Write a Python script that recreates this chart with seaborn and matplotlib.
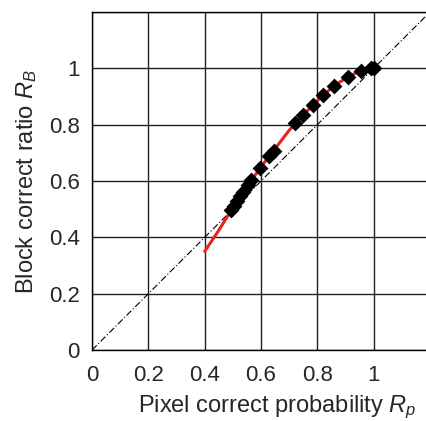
import matplotlib
matplotlib.use("Agg")
import matplotlib.pyplot as plt
import seaborn as sns
import pandas as pd

# ─── Data ─────────────────────────────────────────────────────────────────────

# fitted curve (red)
curve_x = [0.40, 0.45, 0.50, 0.55, 0.60, 0.65, 0.70, 0.75, 0.80, 0.85, 0.90, 0.95, 1.00]
curve_y = [0.35, 0.425, 0.505, 0.58, 0.65, 0.715, 0.78, 0.835, 0.885, 0.93, 0.965, 0.99, 1.00]

# measured points (black diamonds)
pts_x = [0.494, 0.505, 0.515, 0.525, 0.535, 0.553, 0.565, 0.595, 0.630, 0.645,
         0.722, 0.750, 0.783, 0.821, 0.860, 0.910, 0.955, 0.990, 1.000]
pts_y = [0.497, 0.512, 0.530, 0.546, 0.562, 0.586, 0.604, 0.645, 0.687, 0.706,
         0.805, 0.834, 0.870, 0.905, 0.938, 0.970, 0.992, 1.000, 1.000]

ticks = [0, 0.2, 0.4, 0.6, 0.8, 1.0]
tick_labels = ["0", "0.2", "0.4", "0.6", "0.8", "1"]

# ─── Style ────────────────────────────────────────────────────────────────────

sns.set_style("white")
plt.rcParams["font.family"] = ["Liberation Sans", "DejaVu Sans"]
plt.rcParams["mathtext.fontset"] = "custom"
plt.rcParams["mathtext.it"] = "Liberation Sans:italic"
plt.rcParams["mathtext.rm"] = "Liberation Sans"

fig = plt.figure(figsize=(4.27, 4.21), dpi=100)
ax = fig.add_axes([0.2155, 0.1686, 0.7916, 0.803])

# grid
for t in ticks + [1.2]:
    ax.axvline(t, color="#222222", lw=1.0, zorder=0)
    ax.axhline(t, color="#222222", lw=1.0, zorder=0)

# diagonal reference
ax.plot([0, 1.2], [0, 1.2], color="k", lw=0.8, ls=(0, (6, 2, 1, 2)), zorder=1)

df_curve = pd.DataFrame({"x": curve_x, "y": curve_y})
sns.lineplot(data=df_curve, x="x", y="y", color="#e8231c", lw=2.2,
             sort=False, estimator=None, ax=ax, zorder=2)

df_pts = pd.DataFrame({"x": pts_x, "y": pts_y})
sns.scatterplot(data=df_pts, x="x", y="y", marker="D", s=65, color="k",
                edgecolor="k", linewidth=0, ax=ax, zorder=3)

ax.set_xlim(0, 1.2)
ax.set_ylim(0, 1.2)
ax.set_xticks(ticks)
ax.set_xticklabels(tick_labels)
ax.set_yticks(ticks)
ax.set_yticklabels(tick_labels)
ax.tick_params(axis="x", length=0, labelsize=16, pad=11)
ax.tick_params(axis="y", length=0, labelsize=16, pad=9)
for s in ax.spines.values():
    s.set_color("k")
    s.set_linewidth(1.0)

ax.set_xlabel("Pixel correct probability $R_p$", fontsize=17)
ax.set_ylabel("Block correct ratio $R_B$", fontsize=17, labelpad=7)
ax.xaxis.set_label_coords(0.547, -0.128)

fig.savefig("out.png", dpi=100)
